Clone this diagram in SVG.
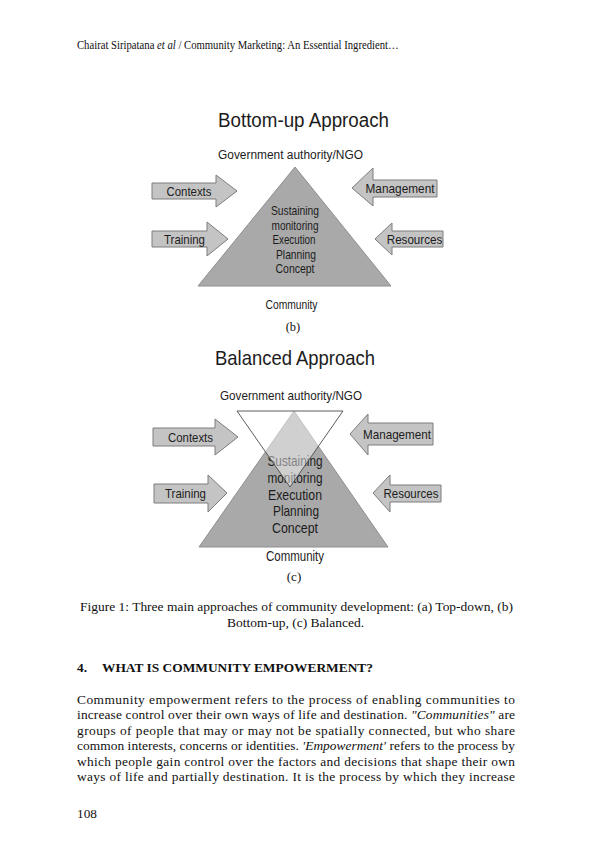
<svg xmlns="http://www.w3.org/2000/svg" width="605" height="855" viewBox="0 0 605 855">
<style>
.page{font-family:"Liberation Serif","Times New Roman",serif;fill:#111;}
.dia{font-family:"Liberation Sans",Arial,sans-serif;fill:#1c1c1c;}
.tri{fill:#a9a9a9;stroke:#8f8f8f;stroke-width:1;}
.arr{fill:#c4c4c4;stroke:#7d7d7d;stroke-width:1;}
.inv{fill:#ffffff;fill-opacity:0.45;stroke:#4a4a4a;stroke-width:0.9;}
</style>
<rect width="605" height="855" fill="#ffffff"/>

<!-- page header -->
<g id="header">
<text class="page" transform="translate(77,49) scale(0.905,1)" x="0" y="0" font-size="11.8">Chairat Siripatana <tspan font-style="italic">et al</tspan> / Community Marketing: An Essential Ingredient…</text>
</g>

<!-- (b) Bottom-up -->
<g id="diagram-b">
<text class="dia" x="303.5" y="127" font-size="19.5" text-anchor="middle" textLength="171" lengthAdjust="spacingAndGlyphs">Bottom-up Approach</text>
<text class="dia" x="290.5" y="159" font-size="12" text-anchor="middle" textLength="145" lengthAdjust="spacingAndGlyphs">Government authority/NGO</text>
<g id="b-triangle">
<polygon class="tri" points="295,167 198,286 391,286"/>
<g class="dia" font-size="13.5" text-anchor="middle">
<text x="295" y="215" textLength="48" lengthAdjust="spacingAndGlyphs">Sustaining</text>
<text x="295" y="229.5" textLength="47" lengthAdjust="spacingAndGlyphs">monitoring</text>
<text x="294" y="244" textLength="43" lengthAdjust="spacingAndGlyphs">Execution</text>
<text x="296" y="258.5" textLength="40" lengthAdjust="spacingAndGlyphs">Planning</text>
<text x="295" y="272.5" textLength="39" lengthAdjust="spacingAndGlyphs">Concept</text>
</g>
</g>
<g id="b-contexts">
<polygon class="arr" points="152,183 216,183 216,175 237,191 216,207 216,199 152,199"/>
<text class="dia" x="189" y="195.5" font-size="13" text-anchor="middle" textLength="45" lengthAdjust="spacingAndGlyphs">Contexts</text>
</g>
<g id="b-training">
<polygon class="arr" points="152,231 207,231 207,222 228,239 207,256 207,247 152,247"/>
<text class="dia" x="184.5" y="243.5" font-size="13" text-anchor="middle" textLength="41" lengthAdjust="spacingAndGlyphs">Training</text>
</g>
<g id="b-management">
<polygon class="arr" points="437,180 373,180 373,168 352,188 373,206 373,197 437,197"/>
<text class="dia" x="400" y="192.5" font-size="13" text-anchor="middle" textLength="69" lengthAdjust="spacingAndGlyphs">Management</text>
</g>
<g id="b-resources">
<polygon class="arr" points="443,231 392,231 392,223 375,239 392,255 392,247 443,247"/>
<text class="dia" x="414.5" y="243.5" font-size="13" text-anchor="middle" textLength="55.5" lengthAdjust="spacingAndGlyphs">Resources</text>
</g>
<text class="dia" x="291.5" y="308.5" font-size="13.5" text-anchor="middle" textLength="52" lengthAdjust="spacingAndGlyphs">Community</text>
<text class="page" x="293" y="331" font-size="12.5" text-anchor="middle">(b)</text>
</g>

<!-- (c) Balanced -->
<g id="diagram-c">
<text class="dia" x="295" y="365" font-size="21" text-anchor="middle" textLength="160" lengthAdjust="spacingAndGlyphs">Balanced Approach</text>
<text class="dia" x="291" y="400" font-size="13" text-anchor="middle" textLength="142" lengthAdjust="spacingAndGlyphs">Government authority/NGO</text>
<g id="c-triangles">
<polygon class="tri" points="294,411 199,547 388,547"/>
<g class="dia" font-size="15" text-anchor="middle">
<text x="295" y="466" textLength="55" lengthAdjust="spacingAndGlyphs">Sustaining</text>
<text x="295" y="482.5" textLength="55" lengthAdjust="spacingAndGlyphs">monitoring</text>
<text x="295" y="499.5" textLength="54" lengthAdjust="spacingAndGlyphs">Execution</text>
<text x="296" y="516" textLength="46" lengthAdjust="spacingAndGlyphs">Planning</text>
<text x="295" y="533" textLength="46" lengthAdjust="spacingAndGlyphs">Concept</text>
</g>
<polygon class="inv" points="237,411 343,411 290,487"/>
</g>
<g id="c-contexts">
<polygon class="arr" points="153,428 215,428 215,419 238,437 215,455 215,446 153,446"/>
<text class="dia" x="190.5" y="442" font-size="13" text-anchor="middle" textLength="45" lengthAdjust="spacingAndGlyphs">Contexts</text>
</g>
<g id="c-training">
<polygon class="arr" points="154,484 208,484 208,475 227,493 208,512 208,503 154,503"/>
<text class="dia" x="185.5" y="498" font-size="13" text-anchor="middle" textLength="41" lengthAdjust="spacingAndGlyphs">Training</text>
</g>
<g id="c-management">
<polygon class="arr" points="433,423 368,423 368,414 350,434 368,455 368,445 433,445"/>
<text class="dia" x="397" y="438.5" font-size="13" text-anchor="middle" textLength="68" lengthAdjust="spacingAndGlyphs">Management</text>
</g>
<g id="c-resources">
<polygon class="arr" points="441,485 390,485 390,475 373,493 390,512 390,502 441,502"/>
<text class="dia" x="411" y="498" font-size="13" text-anchor="middle" textLength="55" lengthAdjust="spacingAndGlyphs">Resources</text>
</g>
<text class="dia" x="295" y="561" font-size="14" text-anchor="middle" textLength="58" lengthAdjust="spacingAndGlyphs">Community</text>
<text class="page" x="294" y="581" font-size="13" text-anchor="middle">(c)</text>
</g>

<!-- caption and body text -->
<g id="caption">
<text class="page" x="80" y="611" font-size="13.5" textLength="433" lengthAdjust="spacingAndGlyphs">Figure 1: Three main approaches of community development: (a) Top-down, (b)</text>
<text class="page" x="295.5" y="627" font-size="13.5" text-anchor="middle">Bottom-up, (c) Balanced.</text>
</g>
<g id="heading">
<text class="page" x="77" y="672" font-size="13.3" font-weight="bold">4.</text>
<text class="page" x="102" y="672" font-size="13.3" font-weight="bold" textLength="271" lengthAdjust="spacingAndGlyphs">WHAT IS COMMUNITY EMPOWERMENT?</text>
</g>
<g id="paragraph" font-size="13.4">
<text class="page" x="77" y="703.5" textLength="438" lengthAdjust="spacing">Community empowerment refers to the process of enabling communities to</text>
<text class="page" x="77" y="719" textLength="438" lengthAdjust="spacing">increase control over their own ways of life and destination. <tspan font-style="italic">"Communities"</tspan> are</text>
<text class="page" x="77" y="734.5" textLength="438" lengthAdjust="spacing">groups of people that may or may not be spatially connected, but who share</text>
<text class="page" x="77" y="750" textLength="438" lengthAdjust="spacing">common interests, concerns or identities.  <tspan font-style="italic">'Empowerment'</tspan> refers to the process by</text>
<text class="page" x="77" y="765.5" textLength="438" lengthAdjust="spacing">which people gain control over the factors and decisions that shape their own</text>
<text class="page" x="77" y="781" textLength="438" lengthAdjust="spacing">ways of life and partially destination. It is the process by which they increase</text>
</g>
<g id="page-number">
<text class="page" x="77" y="818" font-size="13.3">108</text>
</g>
</svg>
